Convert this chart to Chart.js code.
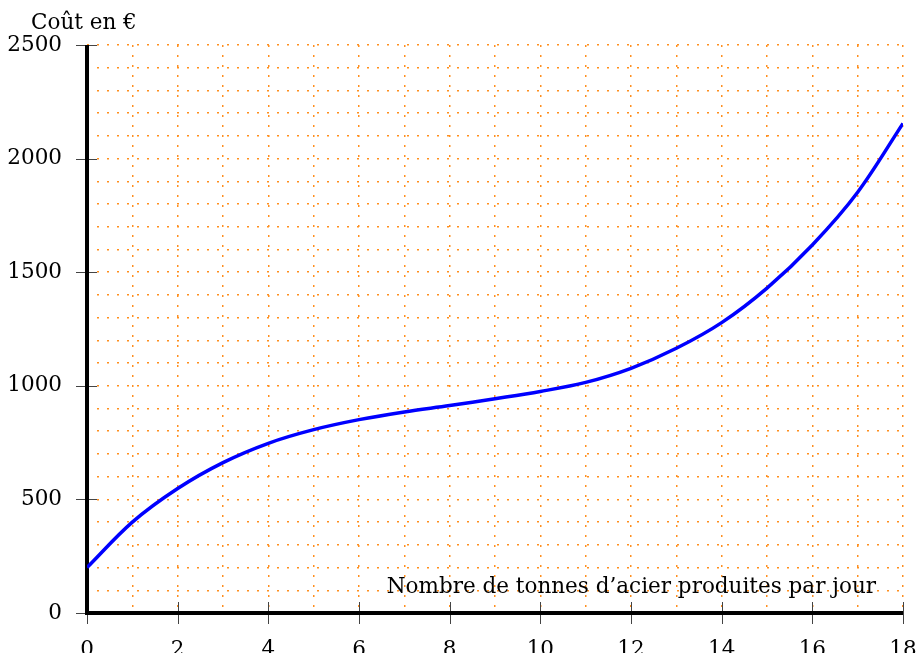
<!DOCTYPE html>
<html>
<head>
<meta charset="utf-8">
<script src="https://cdn.jsdelivr.net/npm/chart.js@4/dist/chart.umd.min.js"></script>
<style>
  html, body { margin: 0; padding: 0; background: #fff; overflow: hidden; }
  #wrap { width: 916px; height: 653px; }
</style>
</head>
<body>
<div id="wrap"><canvas id="costChart" width="916" height="653"></canvas></div>
<script>
// data
const tonnes = [0, 1, 2, 3, 4, 5, 6, 7, 8, 9, 10, 11, 12, 13, 14, 15, 16, 17, 18];
const costs = [200, 400, 548, 662, 747, 807, 851, 885, 913, 943, 975, 1015, 1077, 1165, 1278, 1430, 1620, 1852, 2155];
const xLabelValues = [0, 2, 4, 6, 8, 10, 12, 14, 16, 18];
const yLabelValues = [0, 500, 1000, 1500, 2000, 2500];
const yTitle = 'Coût en €';
const xTitle = 'Nombre de tonnes d’acier produites par jour';

const serif = '"DejaVu Serif", serif';
const fontSize = 21.5;
const gridColor = '#ff8f1f';

// axes, tick marks and titles drawn on top of the grid
const axesPlugin = {
    id: 'axesPlugin',
    beforeDatasetsDraw(chart) {
        const ctx = chart.ctx;
        const xScale = chart.scales.x;
        const yScale = chart.scales.y;
        const left = xScale.getPixelForValue(0);
        const right = xScale.getPixelForValue(18);
        const bottom = yScale.getPixelForValue(0);
        const top = yScale.getPixelForValue(2500);

        ctx.save();
        // small tick marks
        ctx.strokeStyle = '#444';
        ctx.lineWidth = 1;
        ctx.beginPath();
        yLabelValues.forEach(v => {
            const py = Math.round(yScale.getPixelForValue(v)) + 0.5;
            ctx.moveTo(left - 11, py);
            ctx.lineTo(left + 10, py);
        });
        xLabelValues.forEach(v => {
            const px = Math.round(xScale.getPixelForValue(v)) + 0.5;
            ctx.moveTo(px, bottom - 11);
            ctx.lineTo(px, bottom + 11);
        });
        ctx.stroke();

        // thick axes
        ctx.strokeStyle = '#000';
        ctx.lineWidth = 4;
        ctx.beginPath();
        ctx.moveTo(left, top);
        ctx.lineTo(left, bottom + 2);
        ctx.moveTo(left - 2, bottom);
        ctx.lineTo(right, bottom);
        ctx.stroke();
        ctx.restore();
    },
    afterDraw(chart) {
        const ctx = chart.ctx;
        const area = chart.chartArea;
        ctx.save();
        ctx.fillStyle = '#000';
        ctx.font = fontSize + 'px ' + serif;
        ctx.textBaseline = 'middle';
        ctx.textAlign = 'left';
        ctx.fillText(yTitle, area.left - 56, area.top - 22);
        ctx.textAlign = 'right';
        ctx.fillText(xTitle, area.right - 27, area.bottom - 26);
        ctx.restore();
    }
};

const points = tonnes.map((t, i) => ({ x: t, y: costs[i] }));

new Chart(document.getElementById('costChart'), {
    type: 'line',
    data: {
        datasets: [{
            data: points,
            borderColor: '#0000ff',
            borderWidth: 3.5,
            pointRadius: 0,
            tension: 0.35,
            fill: false
        }]
    },
    options: {
        responsive: false,
        animation: false,
        layout: { padding: { left: 0, right: 13, top: 45, bottom: 0 } },
        plugins: {
            legend: { display: false },
            tooltip: { enabled: false }
        },
        scales: {
            x: {
                type: 'linear',
                min: 0,
                max: 18,
                afterFit(scale) {
                    scale.height = 40;
                    scale.paddingLeft = 0;
                    scale.paddingRight = 0;
                },
                ticks: {
                    stepSize: 1,
                    autoSkip: false,
                    maxRotation: 0,
                    padding: 25,
                    color: '#000',
                    font: { family: serif, size: fontSize },
                    callback: v => xLabelValues.includes(v) ? String(v) : ''
                },
                grid: { color: gridColor, lineWidth: 1.5, drawTicks: false },
                border: { display: false, dash: [2, 8] }
            },
            y: {
                min: 0,
                max: 2500,
                afterFit(scale) {
                    scale.width = 87;
                    scale.paddingTop = 0;
                    scale.paddingBottom = 0;
                },
                ticks: {
                    stepSize: 100,
                    autoSkip: false,
                    padding: 25,
                    color: '#000',
                    font: { family: serif, size: fontSize },
                    callback: v => yLabelValues.includes(v) ? String(v) : ''
                },
                grid: { color: gridColor, lineWidth: 1.5, drawTicks: false },
                border: { display: false, dash: [2, 8] }
            }
        }
    },
    plugins: [axesPlugin]
});
</script>
</body>
</html>
